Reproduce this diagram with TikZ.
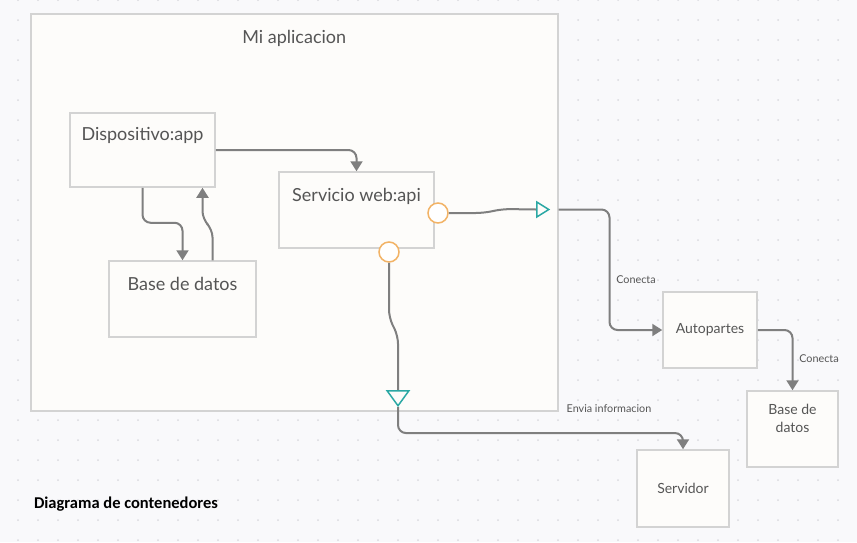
\documentclass[tikz,border=0pt]{standalone}
\usepackage{fontspec}
\setmainfont{Lato}
\newfontfamily\notefont{Carlito}
\usepackage{tikz}
\usetikzlibrary{arrows.meta}
\usetikzlibrary{positioning}
\usetikzlibrary{shapes.geometric}
\definecolor{cCanvas}{HTML}{F9F9FB}
\definecolor{cDot}{HTML}{DADADF}
\definecolor{cLine}{HTML}{D3D3D3}
\definecolor{cFill}{HTML}{FDFCFA}
\definecolor{cWire}{HTML}{7F7F7F}
\definecolor{cInk}{HTML}{555555}
\definecolor{cPort}{HTML}{F2B366}
\definecolor{cTeal}{HTML}{2BA8A4}
\tikzset{basic box/.style={draw=cLine,fill=cFill,line width=1.5pt,inner sep=0pt}}
\tikzset{box/.style={basic box,text=cInk,font=\fontsize{14}{17}\selectfont,align=center}}
\tikzset{boxhead/.style={text=cInk,inner sep=0pt,font=\fontsize{18}{20}\selectfont}}
\tikzset{wire/.style={draw=cWire,line width=2pt,rounded corners=8pt}}
\tikzset{arrowwire/.style={wire,-{Triangle[length=10pt,width=12pt]}}}

\begin{document}
\begin{tikzpicture}
    [
      x=1pt, y=-1pt,
      socket/.style = {circle, draw=cPort, fill=white, line width=1.5pt, minimum size=20pt, inner sep=0pt},
      plug/.style = {isosceles triangle, draw=cTeal, fill=cFill, line width=1.5pt, inner sep=0pt},
      note/.style = {text=cInk, font=\fontsize{10.8}{12}\selectfont},
    ]
    \useasboundingbox (0,0) rectangle (857,542);
    \fill[cCanvas] (0,0) rectangle (857,542);

    % dotted grid
    \foreach \i in {0,...,42}
      \foreach \j in {0,...,27}
        \fill[cDot] ({18+20*\i},{20*\j}) circle[radius=1pt];

    % container Mi aplicacion
    \node [basic box,minimum width=527pt,minimum height=397pt,anchor=north west,
           label={[boxhead,below=17pt]north:Mi aplicacion}] (cont) at (30,13) {};

    % inner containers
    \node [basic box,minimum width=145pt,minimum height=74pt,
           label={[boxhead,below=15pt]north:{Dispositivo:app}}] (app) at (142.5,150) {};
    \node [basic box,minimum width=147pt,minimum height=76pt,
           label={[boxhead,below=17pt]north:Base de datos}] (db) at (182.5,299) {};
    \node [basic box,minimum width=155pt,minimum height=76pt,
           label={[boxhead,below=17pt]north:{Servicio web:api}}] (api) at (356.5,210) {};

    % ports
    \node [socket] (pa) at (438,213) {};
    \node [socket] (pb) at (389,252) {};
    \node [plug,isosceles triangle apex angle=64,minimum size=12pt,anchor=west] (ta) at (536,209.5) {};
    \node [plug,isosceles triangle apex angle=72,minimum size=15pt,shape border rotate=270,anchor=north] (tb) at (398,390) {};

    % outer systems
    \node [box,minimum width=94pt,minimum height=76pt] (auto) at (710,330) {Autopartes};
    \node [basic box,minimum width=91pt,minimum height=76pt,
           label={[boxhead,font=\fontsize{14}{18}\selectfont,align=center,below=14pt]north:{Base de\\datos}}] (dbo) at (792.5,429) {};
    \node [box,minimum width=92pt,minimum height=77pt] (srv) at (683,488.5) {Servidor};

    % connectors inside
    \draw [arrowwire] (app.east) -| (api.north);
    \draw [arrowwire] (app.south) -- ++(0,35) -| (db.north);
    \draw [arrowwire] ([xshift=30pt]db.north) -- ++(0,-31) -- ++(-10,-10) -- ([xshift=60pt]app.south);
    \draw [wire] (pa.east) -- ++(35,0) -- ++(19,-4) -- (ta.west);
    \draw [wire] (pb.south) -- ++(0,55) -- ++(9,18) -- (tb.north);

    % connectors outside
    \draw [arrowwire] (ta -| cont.east) -- ++(51,0) |- (auto.west);
    \draw [arrowwire] (auto.east) -| (dbo.north);
    \draw [arrowwire] (tb.south) -- ++(0,26) -| (srv.north);

    % labels
    \node [note] (l1) at (636,280) {Conecta};
    \node [note] (l2) at (819,359) {Conecta};
    \node [note] (l3) at (609,409) {Envia informacion};
    \node [font=\notefont\bfseries\fontsize{16.5}{18}\selectfont] (caption) at (126,504) {Diagrama de contenedores};
  \end{tikzpicture}
\end{document}
